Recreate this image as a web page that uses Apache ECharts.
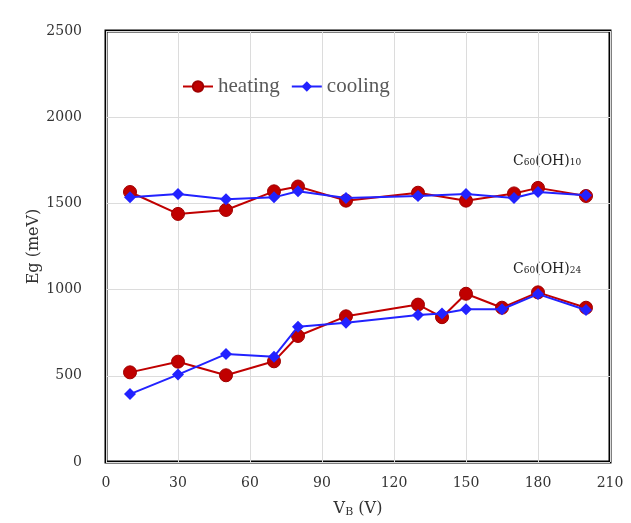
<!DOCTYPE html>
<html><head><meta charset="utf-8">
<script src="https://cdn.jsdelivr.net/npm/echarts@6/dist/echarts.min.js"></script>
<style>html,body{margin:0;padding:0;background:#fff}#c{width:631px;height:523px}</style>
</head><body><div id="c"></div>
<script>
// Data
const xUpper = [10, 30, 50, 70, 80, 100, 130, 150, 170, 180, 200];
const heatUpper = [1566, 1439, 1462, 1570, 1598, 1516, 1562, 1516, 1558, 1590, 1543];
const coolUpper = [1535, 1554, 1524, 1535, 1570, 1531, 1543, 1554, 1531, 1566, 1547];
const xLower = [10, 30, 50, 70, 80, 100, 130, 140, 150, 165, 180, 200];
const heatLower = [520, 582, 503, 584, 731, 845, 913, 840, 976, 895, 984, 895];
const coolLower = [394, 507, 626, 611, 785, 808, 853, 862, 886, 886, 974, 882];
const xTicks = [0, 30, 60, 90, 120, 150, 180, 210];
const yTicks = [0, 500, 1000, 1500, 2000, 2500];

const serif = '"DejaVu Serif", "Liberation Serif", serif';
const times = '"Liberation Serif", "Times New Roman", serif';
const RED = '#C00000', BLUE = '#2222FF';
const zip = (xs, ys) => xs.map((x, i) => [x, ys[i]]);

function heating(data) {
  return { name: 'heating', type: 'line', data, symbol: 'circle', symbolSize: 13,
    lineStyle: { color: RED, width: 2 },
    itemStyle: { color: RED, borderColor: '#A00000', borderWidth: 1 }, z: 2 };
}
function cooling(data) {
  return { name: 'cooling', type: 'line', data, symbol: 'diamond', symbolSize: 12,
    lineStyle: { color: BLUE, width: 2 },
    itemStyle: { color: BLUE }, z: 3 };
}
const annRich = {
  n: { fontFamily: serif, fontSize: 14, fill: '#222' },
  s: { fontFamily: serif, fontSize: 9, fill: '#222', padding: [4, 0, 0, 0] }
};

const chart = echarts.init(document.getElementById('c'));
chart.setOption({
  animation: false,
  backgroundColor: '#fff',
  grid: { left: 106, right: 21, top: 31, bottom: 61, show: true, borderColor: '#000', borderWidth: 3 },
  legend: {
    data: ['heating', 'cooling'], left: 177, top: 71, itemWidth: 30, itemHeight: 13, itemGap: 11,
    textStyle: { fontFamily: times, fontSize: 21, color: '#595959' }
  },
  xAxis: {
    type: 'value', min: 0, max: 210, interval: 30,
    name: '{v|V}{s|B}{v| (V)}', nameLocation: 'middle', nameGap: 37,
    nameTextStyle: { rich: {
      v: { fontFamily: serif, fontSize: 16, color: '#333' },
      s: { fontFamily: serif, fontSize: 11, color: '#333', verticalAlign: 'bottom', padding: [8, 0, 0, 0] }
    } },
    axisLine: { show: false }, axisTick: { show: false },
    axisLabel: { fontFamily: serif, fontSize: 14, color: '#333', margin: 14,
      formatter: v => xTicks.includes(v) ? String(v) : '' },
    splitLine: { show: true, lineStyle: { color: '#dcdcdc', width: 1 } }
  },
  yAxis: {
    type: 'value', min: 0, max: 2500, interval: 500,
    name: 'Eg (meV)', nameLocation: 'middle', nameGap: 64, nameRotate: 90, nameMoveOverlap: false,
    nameTextStyle: { fontFamily: serif, fontSize: 16, color: '#333' },
    axisLine: { show: false }, axisTick: { show: false },
    axisLabel: { fontFamily: serif, fontSize: 14, color: '#333', margin: 24,
      formatter: v => yTicks.includes(v) ? String(v) : '' },
    splitLine: { show: true, lineStyle: { color: '#dcdcdc', width: 1 } }
  },
  graphic: [
    { type: 'text', left: 513, top: 154, style: { text: '{n|C}{s|60}{n|(OH)}{s|10}', rich: annRich } },
    { type: 'text', left: 513, top: 262, style: { text: '{n|C}{s|60}{n|(OH)}{s|24}', rich: annRich } }
  ],
  series: [
    heating(zip(xUpper, heatUpper)),
    cooling(zip(xUpper, coolUpper)),
    heating(zip(xLower, heatLower)),
    cooling(zip(xLower, coolLower))
  ]
});
</script></body></html>
